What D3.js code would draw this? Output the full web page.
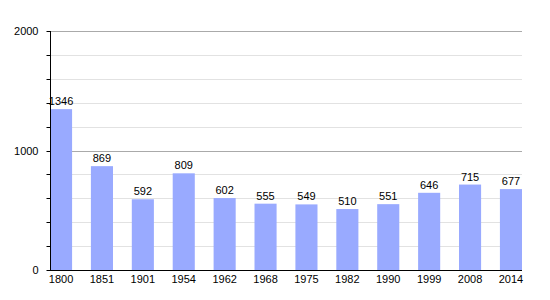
<!DOCTYPE html>
<html>
<head>
<meta charset="utf-8">
<script src="https://cdn.jsdelivr.net/npm/d3@7"></script>
<style>
  body { margin: 0; background: #fff; }
  text { font-family: "Liberation Sans", Arial, sans-serif; font-size: 11px; fill: #000; }
</style>
</head>
<body>
<svg width="550" height="300"></svg>
<script>
let years = ["1800", "1851", "1901", "1954", "1962", "1968", "1975", "1982", "1990", "1999", "2008", "2014"];
let population = [1346, 869, 592, 809, 602, 555, 549, 510, 551, 646, 715, 677];
let yTicks = [0, 1000, 2000];

let svg = d3.select('svg');
let plotLeft = 50, plotRight = 522, plotTop = 31, plotBottom = 270;

let x = d3.scaleBand().domain(years).range([plotLeft, plotRight]).paddingInner(0.46).paddingOuter(0);
let y = d3.scaleLinear().domain([0, 2000]).range([plotBottom, plotTop]);

// grid lines every 200, darker at the thousands
svg.append('g')
   .selectAll('line')
   .data(d3.range(200, 2001, 200))
   .enter()
   .append('line')
   .attr('x1', plotLeft)
   .attr('x2', plotRight)
   .attr('y1', d => Math.round(y(d)) + 0.5)
   .attr('y2', d => Math.round(y(d)) + 0.5)
   .attr('stroke', d => d % 1000 === 0 ? '#aaaaaa' : '#e2e2e2')
   .attr('stroke-width', 1);

svg.append('g')
   .selectAll('rect')
   .data(population)
   .enter()
   .append('rect')
   .attr('x', (d, i) => x(years[i]))
   .attr('y', d => y(d))
   .attr('width', x.bandwidth())
   .attr('height', d => plotBottom - y(d))
   .attr('fill', '#99aaff');

svg.append('g')
   .selectAll('text')
   .data(population)
   .enter()
   .append('text')
   .attr('x', (d, i) => x(years[i]) + x.bandwidth() / 2)
   .attr('y', d => y(d) - 4)
   .attr('text-anchor', 'middle')
   .text(d => d);

// y axis with minor ticks every 200 (drawn over the labels, like the original)
let yAxis = svg.append('g').attr('transform', 'translate(' + (plotLeft + 0.5) + ',0)');
yAxis.append('line')
     .attr('y1', plotTop).attr('y2', plotBottom)
     .attr('stroke', '#000');
yAxis.selectAll('line.minor')
     .data(d3.range(0, 2001, 200))
     .enter()
     .append('line')
     .attr('class', 'minor')
     .attr('x1', -4).attr('x2', 0)
     .attr('y1', d => Math.round(y(d)) + 0.5)
     .attr('y2', d => Math.round(y(d)) + 0.5)
     .attr('stroke', '#000');
yAxis.selectAll('text')
     .data(yTicks)
     .enter()
     .append('text')
     .attr('x', -12)
     .attr('y', d => y(d) + 4)
     .attr('text-anchor', 'end')
     .text(d => d);

// x axis
svg.append('line')
   .attr('x1', plotLeft).attr('x2', plotRight)
   .attr('y1', plotBottom + 0.5).attr('y2', plotBottom + 0.5)
   .attr('stroke', '#000');
svg.append('g')
   .selectAll('text')
   .data(years)
   .enter()
   .append('text')
   .attr('x', d => x(d) + x.bandwidth() / 2)
   .attr('y', plotBottom + 13)
   .attr('text-anchor', 'middle')
   .text(d => d);
</script>
</body>
</html>
